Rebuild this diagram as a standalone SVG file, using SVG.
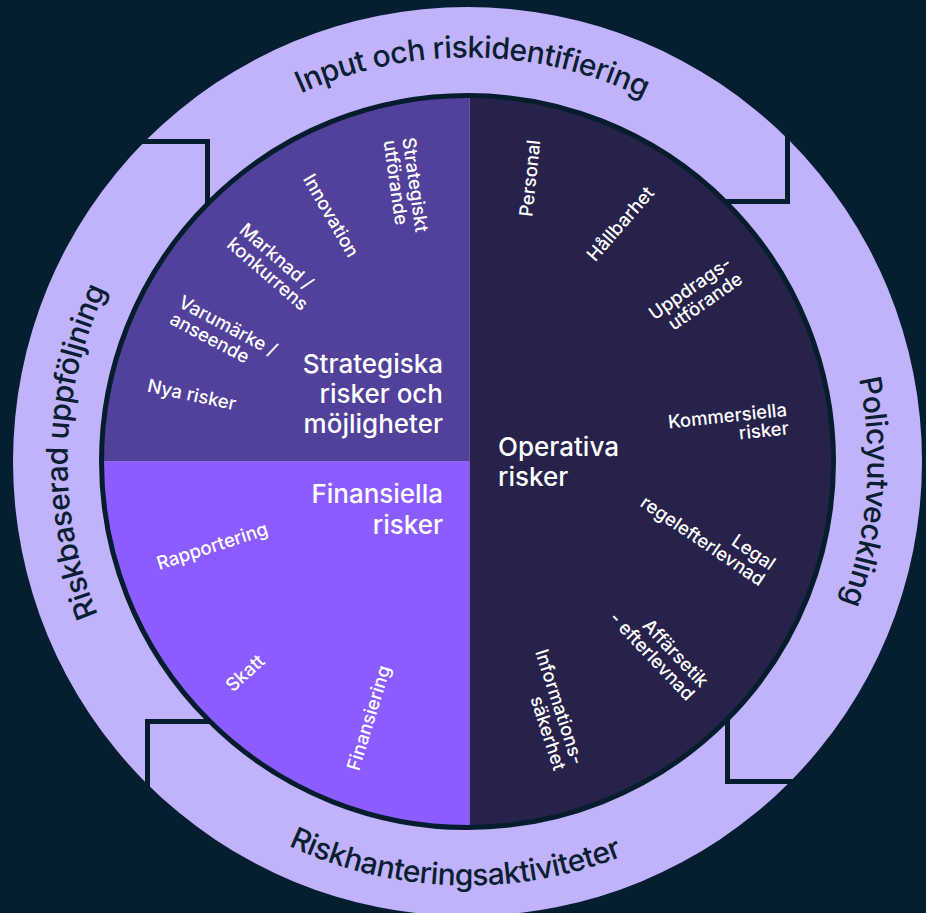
<svg xmlns="http://www.w3.org/2000/svg" width="926" height="913" viewBox="0 0 926 913">
<defs>
<style>
.ringtxt{font-family:Inter,"Noto Sans",sans-serif;font-size:30px;letter-spacing:-0.5px;fill:#0a1f31;font-weight:500}
.lbl{font-family:Inter,"Noto Sans",sans-serif;font-size:18.5px;fill:#ffffff;font-weight:500}
.main{font-family:Inter,"Noto Sans",sans-serif;font-size:26px;fill:#ffffff;font-weight:500}
.cut{fill:none;stroke:#061d2e;stroke-width:5}
.m{text-anchor:middle}
.e{text-anchor:end}
.s{text-anchor:start}
</style>
<clipPath id="pieClip"><circle cx="467.5" cy="461.5" r="366"/></clipPath>
<path id="arcTop" d="M 63.5 461.5 A 404 404 0 0 1 871.5 461.5"/>
<path id="arcRight" d="M 467.5 61.5 A 400 400 0 0 1 467.5 861.5"/>
<path id="arcLeft" d="M 467.5 861.5 A 400 400 0 0 1 467.5 61.5"/>
<path id="arcBottom" d="M 43.5 461.5 A 424 424 0 0 0 891.5 461.5"/>
</defs>
<rect x="0" y="0" width="926" height="913" fill="#051e30"/>

<g id="ring">
<circle cx="467.5" cy="461.5" r="454.5" fill="#c1b3fb"/>
</g>

<g id="connectors">
<path class="cut" d="M 140 141.5 L 207.5 141.5 L 207.5 210"/>
<path class="cut" d="M 787.5 134 L 787.5 201.5 L 720 201.5"/>
<path class="cut" d="M 795 781.5 L 727.5 781.5 L 727.5 713"/>
<path class="cut" d="M 147.5 789 L 147.5 721.5 L 215 721.5"/>
</g>

<g id="ring-labels">
<g id="input"><text class="ringtxt"><textPath href="#arcTop" startOffset="50.4%" text-anchor="middle">Input och riskidentifiering</textPath></text></g>
<g id="policy"><text class="ringtxt"><textPath href="#arcRight" startOffset="52.4%" text-anchor="middle">Policyutveckling</textPath></text></g>
<g id="hantering"><text class="ringtxt"><textPath href="#arcBottom" startOffset="49%" text-anchor="middle">Riskhanteringsaktiviteter</textPath></text></g>
<g id="uppfoljning"><text class="ringtxt"><textPath href="#arcLeft" startOffset="50.8%" text-anchor="middle">Riskbaserad uppföljning</textPath></text></g>
</g>

<g id="pie">
<g clip-path="url(#pieClip)">
<rect x="469.5" y="90" width="372" height="750" fill="#27224b"/>
<rect x="95" y="90" width="374.5" height="371.5" fill="#52419b"/>
<rect x="95" y="461.5" width="374.5" height="380" fill="#8b5cff"/>
</g>
<circle cx="467.5" cy="461.5" r="366" fill="none" stroke="#061d2e" stroke-width="5"/>
</g>

<g id="strategiska">
<text class="main e" x="443" y="373">Strategiska</text>
<text class="main e" x="443" y="403">risker och</text>
<text class="main e" x="443" y="433">möjligheter</text>
<g transform="translate(402.3,138.3) rotate(82)"><text class="lbl s" x="0" y="0">Strategiskt</text><text class="lbl s" x="0" y="19">utförande</text></g>
<g transform="translate(330.7,215.7) rotate(60)"><text class="lbl m" x="0" y="6">Innovation</text></g>
<g transform="translate(238.3,231.7) rotate(41)"><text class="lbl s" x="0" y="0">Marknad /</text><text class="lbl s" x="0" y="19">konkurrens</text></g>
<g transform="translate(177.3,306.3) rotate(28)"><text class="lbl s" x="0" y="0">Varumärke /</text><text class="lbl s" x="0" y="19">anseende</text></g>
<g transform="translate(191.7,395) rotate(12)"><text class="lbl m" x="0" y="6">Nya risker</text></g>
</g>

<g id="finansiella">
<text class="main e" x="443" y="503">Finansiella</text>
<text class="main e" x="443" y="534">risker</text>
<g transform="translate(212.7,547.3) rotate(-18)"><text class="lbl m" x="0" y="5">Rapportering</text></g>
<g transform="translate(245.3,673.3) rotate(-42)"><text class="lbl m" x="0" y="6">Skatt</text></g>
<g transform="translate(370,718.3) rotate(-73)"><text class="lbl m" x="0" y="5">Finansiering</text></g>
</g>

<g id="operativa">
<text class="main s" x="498" y="456">Operativa</text>
<text class="main s" x="498" y="486">risker</text>
<g transform="translate(530.3,178.3) rotate(-84)"><text class="lbl m" x="0" y="6">Personal</text></g>
<g transform="translate(620.7,224) rotate(-49)"><text class="lbl m" x="0" y="6">Hållbarhet</text></g>
<g transform="translate(744,282) rotate(-35)"><text class="lbl e" x="0" y="-19.5">Uppdrags-</text><text class="lbl e" x="0" y="0">utförande</text></g>
<g transform="translate(789.3,434.3) rotate(-6)"><text class="lbl e" x="0" y="-18.5">Kommersiella</text><text class="lbl e" x="0" y="0">risker</text></g>
<g transform="translate(759.3,586.7) rotate(34)"><text class="lbl e" x="0" y="-19">Legal</text><text class="lbl e" x="0" y="0">regelefterlevnad</text></g>
<g transform="translate(686.7,701.7) rotate(46.5)"><text class="lbl e" x="0" y="-19">Affärsetik</text><text class="lbl e" x="0" y="0">- efterlevnad</text></g>
<g transform="translate(554,771.7) rotate(72)"><text class="lbl e" x="0" y="-19">Informations-</text><text class="lbl e" x="0" y="0">säkerhet</text></g>
</g>
</svg>
